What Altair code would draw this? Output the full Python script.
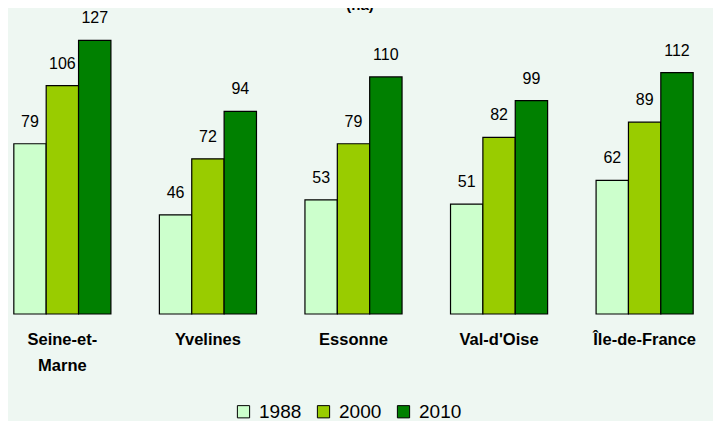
import altair as alt
import pandas as pd

regions = ["Seine-et-Marne", "Yvelines", "Essonne", "Val-d'Oise", "Île-de-France"]
years = ["1988", "2000", "2010"]
v1988 = [79, 46, 53, 51, 62]
v2000 = [106, 72, 79, 82, 89]
v2010 = [127, 94, 110, 99, 112]
colors = ["#CCFFCC", "#99CC00", "#008000"]

rows = []
for i, r in enumerate(regions):
    for y, vals in zip(years, [v1988, v2000, v2010]):
        rows.append({"region": r, "year": y, "value": vals[i]})
df = pd.DataFrame(rows)

FONT = "Liberation Sans"

x = alt.X("region:N", sort=regions, title=None,
          scale=alt.Scale(paddingInner=0.333, paddingOuter=0.04),
          axis=alt.Axis(domain=False, ticks=False, labelAngle=0, labelFont=FONT,
                        labelFontSize=16.5, labelFontWeight="bold", labelColor="#000000",
                        labelPadding=17, labelLineHeight=26,
                        labelExpr="datum.value == 'Seine-et-Marne' ? ['Seine-et-', 'Marne'] : datum.value"))
y = alt.Y("value:Q", scale=alt.Scale(domain=[0, 142], nice=False), axis=None)
xo = alt.XOffset("year:N", sort=years, scale=alt.Scale(paddingInner=0, paddingOuter=0))

bars = alt.Chart(df).mark_bar(stroke="#000000", strokeWidth=1.2).encode(
    x=x, y=y, xOffset=xo,
    color=alt.Color("year:N", sort=years,
                    scale=alt.Scale(domain=years, range=colors),
                    legend=alt.Legend(title=None, orient="none", direction="horizontal",
                                      legendX=226, legendY=394,
                                      symbolType="square", symbolSize=150,
                                      symbolStrokeColor="#000000", symbolStrokeWidth=1,
                                      labelFont=FONT, labelFontSize=19, labelColor="#000000",
                                      labelOffset=6, columnPadding=12)),
)

labels = alt.Chart(df).mark_text(baseline="bottom", dy=-14, font=FONT, fontSize=16,
                                 color="#000000").encode(
    x=x, y=y, xOffset=xo, text="value:Q")

title = alt.Chart(pd.DataFrame({"t": ["(ha)"]})).mark_text(
    baseline="bottom", font=FONT, fontSize=15, fontWeight="bold", color="#000000"
).encode(x=alt.value(352), y=alt.value(5), text="t:N")

chart = alt.layer(bars, labels, title).properties(
    width=691, height=306,
    autosize=alt.AutoSizeParams(type="none"),
    padding={"left": 0, "top": 0, "right": 14, "bottom": 107},
    background="#EEF7F2",
).configure_view(stroke=None)

chart.save("out.html", embed_options={"renderer": "svg", "actions": False})
